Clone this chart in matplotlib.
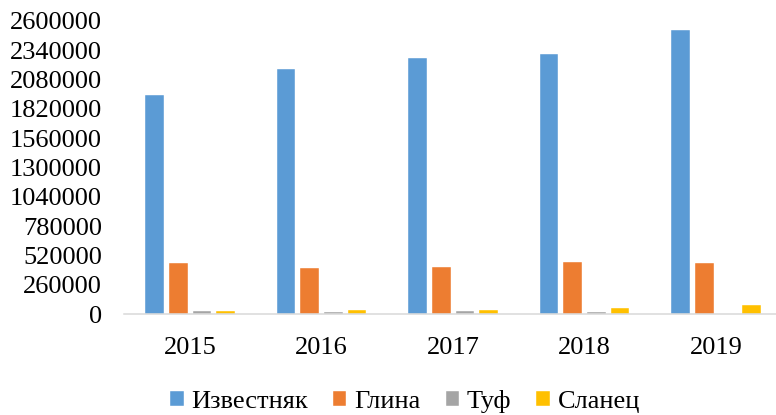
import matplotlib.pyplot as plt
import numpy as np

years = ["2015", "2016", "2017", "2018", "2019"]
series_names = ["Известняк", "Глина", "Туф", "Сланец"]
izvestnyak = [1941000, 2175000, 2269000, 2305000, 2518000]
glina = [455000, 408000, 417000, 461000, 455000]
tuf = [29000, 20000, 29000, 18000, 4000]
slanets = [32000, 38000, 35000, 56000, 85000]
colors = ["#5B9BD5", "#ED7D31", "#A5A5A5", "#FFC000"]
y_ticks = list(range(0, 2600001, 260000))

plt.rcParams["font.family"] = ["Liberation Serif", "DejaVu Serif"]
plt.rcParams["font.size"] = 19

fig = plt.figure(figsize=(7.76, 4.15), dpi=100)
ax = fig.add_axes([0.1602, 0.2427, 0.8473, 0.7067])

x = np.arange(len(years))
bar_w = 0.141
step = 0.18
offsets = (np.arange(4) - 1.5) * step

for i, vals in enumerate([izvestnyak, glina, tuf, slanets]):
    ax.bar(x + offsets[i], vals, width=bar_w, color=colors[i],
           label=series_names[i], edgecolor="white", linewidth=0.3)

ax.set_xlim(-0.5, len(years) - 0.5)
ax.set_ylim(0, 2600000)
ax.set_yticks(y_ticks)
ax.set_yticklabels([str(v) for v in y_ticks])
ax.set_xticks(x)
ax.set_xticklabels(years)

for s in ["top", "right", "left"]:
    ax.spines[s].set_visible(False)
ax.spines["bottom"].set_color("#D9D9D9")
ax.spines["bottom"].set_linewidth(1.1)
ax.tick_params(axis="y", length=0, pad=16)
ax.tick_params(axis="x", length=0, pad=16)

fig.legend(loc="center", bbox_to_anchor=(0.522, 0.033), ncol=4, frameon=False,
           handlelength=0.5, handleheight=0.5, handletextpad=0.3,
           columnspacing=0.95, borderpad=0, borderaxespad=0)

fig.savefig("out.png", dpi=100)
